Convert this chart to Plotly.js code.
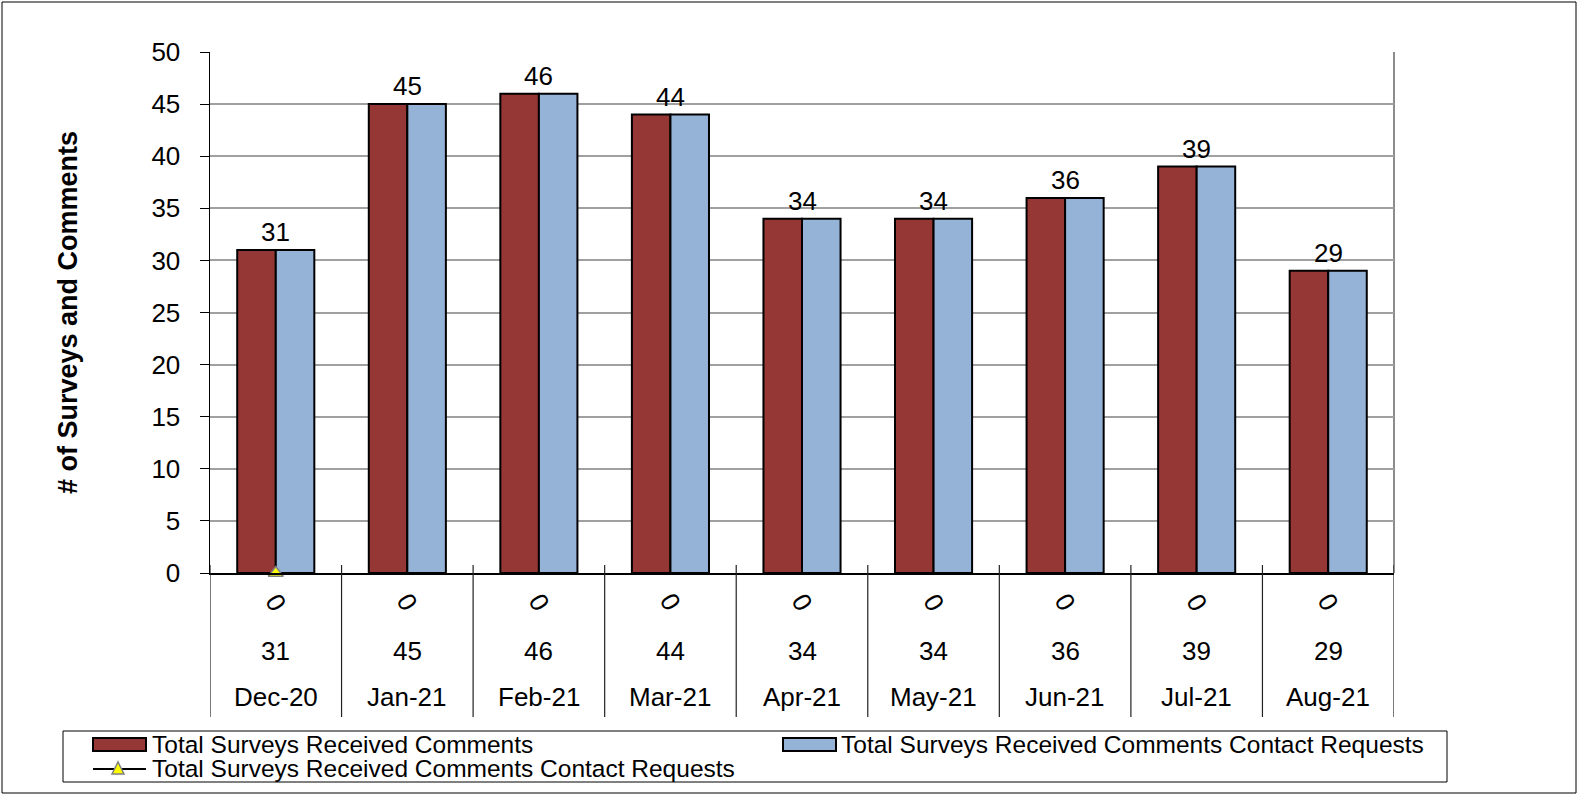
<!DOCTYPE html>
<html><head><meta charset="utf-8">
<script src="https://cdn.plot.ly/plotly-3.0.1.min.js"></script>
<style>html,body{margin:0;padding:0;background:#fff;}#chart{width:1579px;height:796px;}</style>
</head><body><div id="chart"></div>
<script>
// ---- data ----
const months = ['Dec-20','Jan-21','Feb-21','Mar-21','Apr-21','May-21','Jun-21','Jul-21','Aug-21'];
const surveysComments = [31,45,46,44,34,34,36,39,29];
const surveysContactRequests = [31,45,46,44,34,34,36,39,29];
const contactRequestsLine = [0,null,null,null,null,null,null,null,null];
const contactRequestsTableRow = [0,0,0,0,0,0,0,0,0];
const seriesNames = ['Total Surveys Received Comments','Total Surveys Received Comments Contact Requests','Total Surveys Received Comments Contact Requests'];
const yTicks = [0,5,10,15,20,25,30,35,40,45,50];

// ---- geometry helpers ----
const W=1579, H=796, L=210, R=185, T=52, B=223;
const PW=W-L-R, PH=H-T-B;
const xp = px => (px-L)/PW;
const yp = py => (H-B-py)/PH;
const FONT = 'Liberation Sans, Arial, Helvetica, sans-serif';
const RED='#953735', BLUE='#95B3D7';
const FS = 26;

const traces = [
  {type:'bar', name:seriesNames[0], x:months, y:surveysComments,
   marker:{color:RED, line:{color:'#000', width:2}}, showlegend:false, hoverinfo:'x+y'},
  {type:'bar', name:seriesNames[1], x:months, y:surveysContactRequests,
   marker:{color:BLUE, line:{color:'#000', width:2}}, showlegend:false, hoverinfo:'x+y'},
  {type:'scatter', mode:'lines+markers', name:seriesNames[2], x:months, y:contactRequestsLine,
   line:{color:'#000', width:2}, cliponaxis:false,
   marker:{symbol:'triangle-up', size:13, color:'#FFFF00', line:{color:'#808080', width:1.5}},
   showlegend:false, hoverinfo:'x+y'}
];

const annotations = [];
// bar value labels
months.forEach((m,i)=>{
  const v = Math.max(surveysComments[i], surveysContactRequests[i]);
  annotations.push({xref:'x', yref:'y', x:m, y:v, text:String(v), showarrow:false,
    yanchor:'bottom', yshift:1, font:{size:FS, color:'#000', family:FONT}});
});
// data table rows
months.forEach((m,i)=>{
  annotations.push({xref:'x', yref:'paper', x:m, y:yp(602), yanchor:'middle', text:String(contactRequestsTableRow[i]),
    showarrow:false, textangle:60, font:{size:FS, color:'#000', family:FONT}});
  annotations.push({xref:'x', yref:'paper', x:m, y:yp(651), yanchor:'middle', text:String(surveysComments[i]),
    showarrow:false, font:{size:FS, color:'#000', family:FONT}});
  annotations.push({xref:'x', yref:'paper', x:m, y:yp(697), yanchor:'middle', text:m,
    showarrow:false, font:{size:FS, color:'#000', family:FONT}});
});
// legend texts
annotations.push({xref:'paper', yref:'paper', x:xp(150), y:yp(744), xanchor:'left', yanchor:'middle',
  text:seriesNames[0], showarrow:false, font:{size:24.5, color:'#000', family:FONT}});
annotations.push({xref:'paper', yref:'paper', x:xp(839), y:yp(744), xanchor:'left', yanchor:'middle',
  text:seriesNames[1], showarrow:false, font:{size:24.5, color:'#000', family:FONT}});
annotations.push({xref:'paper', yref:'paper', x:xp(150), y:yp(768), xanchor:'left', yanchor:'middle',
  text:seriesNames[2], showarrow:false, font:{size:24.5, color:'#000', family:FONT}});

const shapes = [];
// outer frame
shapes.push({type:'rect', xref:'paper', yref:'paper', x0:xp(2), x1:xp(1576), y0:yp(793), y1:yp(2),
  line:{color:'#000', width:1}, fillcolor:'rgba(0,0,0,0)', layer:'below'});
// plot right border
shapes.push({type:'line', xref:'paper', yref:'paper', x0:1, x1:1, y0:0, y1:1, line:{color:'#8c8c8c', width:2}, layer:'below'});
// data table verticals / cross ticks
for(let i=0;i<=months.length;i++){
  shapes.push({type:'line', xref:'x', yref:'paper', x0:i-0.5, x1:i-0.5, y0:yp(717), y1:yp(565),
    line:{color:'#222', width:1.2}});
}
// legend box
shapes.push({type:'rect', xref:'paper', yref:'paper', x0:xp(63), x1:xp(1447), y0:yp(782), y1:yp(731),
  line:{color:'#000', width:1}, fillcolor:'rgba(0,0,0,0)'});
// legend swatches
shapes.push({type:'rect', xref:'paper', yref:'paper', x0:xp(93), x1:xp(146), y0:yp(751), y1:yp(738),
  line:{color:'#000', width:2}, fillcolor:RED});
shapes.push({type:'rect', xref:'paper', yref:'paper', x0:xp(783), x1:xp(836), y0:yp(751), y1:yp(738),
  line:{color:'#000', width:2}, fillcolor:BLUE});
shapes.push({type:'line', xref:'paper', yref:'paper', x0:xp(93), x1:xp(146), y0:yp(769), y1:yp(769),
  line:{color:'#000', width:2}});
const triPath = 'M '+xp(112)+' '+yp(774)+' L '+xp(124)+' '+yp(774)+' L '+xp(118)+' '+yp(762)+' Z';
shapes.push({type:'path', xref:'paper', yref:'paper', path:triPath, fillcolor:'#FFFF00', line:{color:'#808080', width:1.5}});

const layout = {
  width:W, height:H, margin:{l:L, r:R, t:T, b:B, autoexpand:false},
  paper_bgcolor:'#fff', plot_bgcolor:'#fff',
  font:{family:FONT, color:'#000'},
  barmode:'group', bargap:0.414, bargroupgap:0,
  showlegend:false,
  xaxis:{type:'category', range:[-0.5, months.length-0.5], showticklabels:false, ticks:'',
    showline:true, linecolor:'#000', linewidth:1.5, showgrid:false, zeroline:false, fixedrange:true},
  yaxis:{range:[0,50], tickvals:yTicks, ticks:'outside', ticklen:9, tickwidth:1, tickcolor:'#000',
    showline:true, linecolor:'#000', linewidth:1.5, showgrid:true, gridcolor:'#a0a0a0', gridwidth:2,
    zeroline:false, tickfont:{size:FS, color:'#000', family:FONT}, ticklabelstandoff:14,
    title:{text:'<b># of Surveys and Comments</b>', font:{size:27, color:'#000', family:FONT}, standoff:66},
    automargin:false, fixedrange:true},
  annotations:annotations, shapes:shapes
};
Plotly.newPlot('chart', traces, layout, {displayModeBar:false, staticPlot:true});
</script></body></html>
